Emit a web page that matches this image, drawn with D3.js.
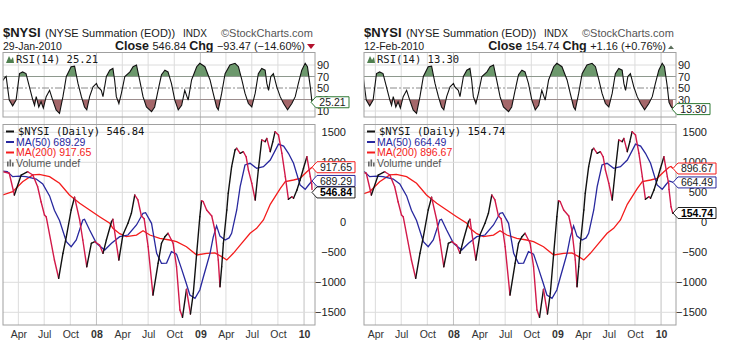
<!DOCTYPE html>
<html>
<head>
<meta charset="utf-8">
<script src="https://cdn.jsdelivr.net/npm/d3@7"></script>
<style>
  body { margin: 0; background: #fff; }
  svg { display: block; font-family: "Liberation Sans", Arial, sans-serif; }
</style>
</head>
<body>
<svg id="chart" width="729" height="351"></svg>
<script>
// $NYSI daily close at its turning points
const nysiDates = ["2007-01-29","2007-02-05","2007-02-28","2007-03-18","2007-04-11","2007-05-04","2007-05-22","2007-06-08","2007-06-20","2007-07-02","2007-07-08","2007-08-06","2007-08-21","2007-09-05","2007-09-17","2007-10-04","2007-10-16","2007-11-03","2007-11-14","2007-11-28","2007-12-14","2007-12-26","2008-01-12","2008-01-24","2008-02-05","2008-02-23","2008-02-28","2008-03-11","2008-03-20","2008-04-03","2008-04-21","2008-05-03","2008-05-15","2008-05-26","2008-06-07","2008-06-17","2008-07-01","2008-07-18","2008-08-05","2008-08-17","2008-08-29","2008-09-09","2008-09-27","2008-10-09","2008-10-21","2008-10-30","2008-11-13","2008-11-27","2008-12-07","2008-12-19","2008-12-30","2009-01-05","2009-01-11","2009-01-23","2009-02-10","2009-02-21","2009-03-05","2009-03-11","2009-03-17","2009-03-23","2009-04-04","2009-04-09","2009-04-21","2009-05-03","2009-05-09","2009-05-21","2009-06-01","2009-06-11","2009-06-19","2009-07-01","2009-07-13","2009-07-24","2009-08-05","2009-08-17","2009-08-23","2009-09-04","2009-09-13","2009-09-21","2009-10-03","2009-10-15","2009-10-27","2009-11-07","2009-11-19","2009-11-25","2009-12-07","2009-12-18","2009-12-30","2010-01-11","2010-01-23","2010-01-28","2010-01-29","2010-02-05","2010-02-11","2010-02-12"];
const nysiValues = [850,843,817,455,788,843,788,593,343,122,93,-628,-933,-517,-240,205,417,38,-295,-740,-350,-323,-378,-517,-295,10,50,-350,-628,-212,-17,150,455,372,110,60,-407,-1212,-683,-350,-240,-183,-350,-740,-1462,-1583,-1117,-1528,-1183,-517,93,360,343,205,105,-128,-628,-1073,-740,-350,205,483,927,1205,1233,1150,1177,1093,872,650,372,872,1372,1343,1398,1177,1343,1510,1455,1150,760,383,427,400,538,705,900,1093,760,640.31,546.84,260,153.58,154.74];

// MA(50)
const ma50Dates = ["2007-02-05","2007-02-21","2007-03-12","2007-04-05","2007-04-28","2007-06-03","2007-06-26","2007-07-20","2007-08-06","2007-08-24","2007-09-17","2007-10-04","2007-10-22","2007-11-14","2007-11-20","2007-12-08","2008-01-01","2008-01-30","2008-02-23","2008-03-23","2008-04-21","2008-05-21","2008-06-13","2008-06-22","2008-07-13","2008-07-31","2008-08-17","2008-09-04","2008-09-21","2008-10-09","2008-10-27","2008-11-11","2008-11-25","2008-12-13","2008-12-30","2009-01-11","2009-01-23","2009-02-04","2009-02-15","2009-02-27","2009-03-11","2009-03-29","2009-04-12","2009-04-21","2009-05-09","2009-05-21","2009-06-07","2009-06-25","2009-07-18","2009-08-11","2009-09-04","2009-10-03","2009-10-21","2009-11-07","2009-11-25","2009-12-18","2010-01-05","2010-01-17","2010-01-29","2010-02-05","2010-02-12"];
const ma50Values = [855,845,760,770,760,720,640,440,200,30,-323,-407,-295,38,50,-128,-350,-462,-350,-240,-212,-45,150,160,-17,-517,-683,-680,-490,-530,-780,-1000,-1212,-1267,-1128,-920,-720,-517,-250,-60,-230,-295,-260,-183,205,593,955,983,900,927,1038,1303,1270,1150,983,622,550,622,689.29,680,664.49];

// MA(200)
const ma200Dates = ["2007-02-05","2007-03-12","2007-04-16","2007-05-22","2007-06-14","2007-07-20","2007-08-24","2007-09-28","2007-11-03","2007-12-08","2008-01-12","2008-02-17","2008-02-28","2008-03-23","2008-04-15","2008-05-21","2008-06-13","2008-07-07","2008-08-11","2008-09-15","2008-10-09","2008-11-13","2008-12-19","2009-01-23","2009-02-21","2009-03-17","2009-04-04","2009-04-27","2009-05-21","2009-06-25","2009-07-18","2009-08-11","2009-09-04","2009-10-09","2009-10-27","2009-11-25","2009-12-18","2010-01-11","2010-01-29","2010-02-05","2010-02-12"];
const ma200Values = [455,510,677,790,800,760,650,455,317,205,93,-17,-100,-190,-240,-212,-140,-212,-267,-295,-323,-407,-545,-517,-510,-573,-628,-517,-380,-183,-100,38,300,560,677,705,733,843,917.65,930,896.67];

// RSI(14)
const rsiDates = ["2007-02-01","2007-02-11","2007-02-17","2007-02-28","2007-03-12","2007-03-24","2007-04-05","2007-04-16","2007-04-28","2007-05-10","2007-05-22","2007-05-28","2007-06-03","2007-06-12","2007-06-20","2007-06-28","2007-07-08","2007-07-20","2007-07-31","2007-08-12","2007-08-24","2007-09-05","2007-09-17","2007-10-04","2007-10-16","2007-10-28","2007-11-09","2007-11-20","2007-11-28","2007-12-08","2007-12-20","2008-01-01","2008-01-06","2008-01-18","2008-01-24","2008-02-05","2008-02-17","2008-02-28","2008-03-05","2008-03-11","2008-03-20","2008-03-29","2008-04-10","2008-04-28","2008-05-09","2008-05-21","2008-06-01","2008-06-13","2008-06-25","2008-07-13","2008-07-24","2008-08-05","2008-08-17","2008-08-29","2008-09-09","2008-09-21","2008-10-03","2008-10-15","2008-10-27","2008-11-07","2008-11-19","2008-12-01","2008-12-19","2008-12-30","2009-01-17","2009-02-04","2009-02-15","2009-02-27","2009-03-05","2009-03-17","2009-03-29","2009-04-15","2009-05-03","2009-05-15","2009-05-27","2009-06-07","2009-06-19","2009-07-01","2009-07-13","2009-07-24","2009-08-05","2009-08-17","2009-08-23","2009-08-29","2009-09-06","2009-09-15","2009-09-27","2009-10-09","2009-10-21","2009-11-04","2009-11-19","2009-12-01","2009-12-12","2009-12-24","2010-01-05","2010-01-13","2010-01-23","2010-01-29","2010-02-05","2010-02-12"];
const rsiValues = [60,67,70,29,19,29,75,78,75,52,29,20,35,17,26,15,35,46,29,12,6,35,70,87,88,58,35,17,12,35,52,58,52,46,35,70,81,84,64,35,23,41,70,78,87,90,64,35,17,9,17,46,73,81,78,58,29,12,20,46,29,64,87,93,87,64,41,17,12,41,75,90,93,87,64,41,23,17,41,75,84,81,58,46,70,75,52,35,23,12,23,35,58,81,93,87,52,25.21,18,13.30];

// the two snapshots, two weeks apart
const panelEnds = ["2010-01-29", "2010-02-12"];
const panelOffsets = [0, 361];

const mainTicks = [-1500, -1000, -500, 0, 500, 1000, 1500];
const rsiTicks = [10, 30, 50, 70, 90];

const FONT = '"Liberation Sans", Arial, sans-serif';
const MONO = '"DejaVu Sans Mono", monospace';
const C = {
  down: "#d21a4a", ma50: "#28289e", ma200: "#f41c1c",
  grid: "#dcdcdc", year: "#c2c2c2", frame: "#a0a0a0",
  green: "#6c986c", brown: "#a4676a", text: "#1a1a1a"
};

const parse = d3.timeParse("%Y-%m-%d");
const DAY = 864e5, PX_PER_DAY = 0.284, SPAN = 1100;
const pack = (ds, vs) => ds.map((d, i) => ({date: parse(d), value: vs[i]}));
const nysi = pack(nysiDates, nysiValues);
const ma50 = pack(ma50Dates, ma50Values);
const ma200 = pack(ma200Dates, ma200Values);
const rsi = pack(rsiDates, rsiValues);

const svg = d3.select("#chart");
const fmt2 = d3.format(".2f"), fmtS = d3.format("+.2f");
let clipN = 0;

function clip(x, y, w, h) {
  const id = "clip" + (clipN++);
  svg.append("clipPath").attr("id", id)
    .append("rect").attr("x", x).attr("y", y).attr("width", w).attr("height", h);
  return "url(#" + id + ")";
}

// StockCharts style value tag with a pointer on its left
function tag(g, xTip, yc, w, label, stroke, color, bold) {
  const h = 5.5;
  g.append("path")
    .attr("d", `M${xTip},${yc}L${xTip + 5},${yc - h}H${xTip + w}V${yc + h}H${xTip + 5}Z`)
    .attr("fill", "#fff").attr("stroke", stroke).attr("stroke-width", 1);
  g.append("text")
    .attr("x", xTip + 5 + (w - 5) / 2).attr("y", yc + 3.8)
    .attr("text-anchor", "middle").attr("font-size", 10.5)
    .attr("font-weight", bold ? "bold" : null)
    .attr("fill", color).text(label);
}

function drawPanel(ox, endStr) {
  const end = parse(endStr);
  const upTo = s => s.filter(d => d.date <= end);
  const px = upTo(nysi), m50 = upTo(ma50), m200 = upTo(ma200), rs = upTo(rsi);
  const last = px[px.length - 1], prev = px[px.length - 2];

  const L = ox + 3, R = ox + 315;
  const rTop = 52.5, rBot = 117, mTop = 124.5, mBot = 325;

  const x = d3.scaleTime()
    .domain([new Date(+end - SPAN * DAY), end])
    .range([ox + 312 - SPAN * PX_PER_DAY, ox + 312]);
  const yR = d3.scaleLinear().domain([10, 90]).range([111, 65]);
  const y = d3.scaleLinear().domain([-1500, 1500]).range([312.3, 132.3]);

  const g = svg.append("g").attr("font-family", FONT).attr("fill", C.text);

  // header
  g.append("text").attr("x", ox + 3).attr("y", 37).attr("font-size", 13)
    .attr("font-weight", "bold").text("$NYSI");
  g.append("text").attr("x", ox + 45).attr("y", 37).attr("font-size", 11)
    .text("(NYSE Summation (EOD))");
  g.append("text").attr("x", ox + 183).attr("y", 37).attr("font-size", 10).text("INDX");
  g.append("text").attr("x", ox + 221).attr("y", 37).attr("font-size", 11)
    .attr("fill", "#555").text("\u00A9StockCharts.com");
  g.append("text").attr("x", ox + 3).attr("y", 50).attr("font-size", 10.5)
    .text(d3.timeFormat("%d-%b-%Y")(end));

  const chg = last.value - prev.value;
  const hdr = g.append("text").attr("x", ox + 305).attr("y", 50)
    .attr("text-anchor", "end").attr("font-size", 11);
  hdr.append("tspan").attr("font-weight", "bold").attr("font-size", 12.5).text("Close ");
  hdr.append("tspan").text(fmt2(last.value) + " ");
  hdr.append("tspan").attr("font-weight", "bold").attr("font-size", 12.5).text("Chg ");
  hdr.append("tspan").text(fmtS(chg) + " (" + fmtS(chg / prev.value * 100) + "%)");
  if (chg < 0) {
    g.append("path").attr("d", `M${ox + 307},${44}L${ox + 315},${44}L${ox + 311},${49}Z`)
      .attr("fill", "#b3122e");
  } else {
    g.append("path").attr("d", `M${ox + 307},${49}L${ox + 313},${49}L${ox + 310},${45.5}Z`)
      .attr("fill", "#5c6f5c");
  }

  // quarterly grid through both panes
  const quarters = x.ticks(d3.timeMonth.every(3)).filter(d => x(d) > L + 1 && x(d) < R - 1);
  g.append("g").selectAll("line").data(quarters).join("line")
    .attr("x1", d => x(d)).attr("x2", d => x(d))
    .attr("y1", rTop).attr("y2", mBot)
    .attr("stroke", d => d.getMonth() === 0 ? C.year : C.grid).attr("stroke-width", 1);

  // ---- RSI pane ----
  g.append("g").selectAll("line").data(rsiTicks).join("line")
    .attr("x1", L).attr("x2", R).attr("y1", d => yR(d)).attr("y2", d => yR(d))
    .attr("stroke", d => (d === 30 || d === 70) ? "#9a9a9a" : (d === 50 ? "#8a8a8a" : C.grid))
    .attr("stroke-dasharray", d => d === 50 ? "7,2,2,2" : null);

  const aboveClip = clip(L, rTop, R - L, yR(70) - rTop);
  const belowClip = clip(L, yR(30), R - L, rBot - yR(30));
  g.append("path").datum(rs)
    .attr("d", d3.area().x(d => x(d.date)).y0(yR(70)).y1(d => yR(d.value)))
    .attr("fill", C.green).attr("clip-path", aboveClip);
  g.append("path").datum(rs)
    .attr("d", d3.area().x(d => x(d.date)).y0(yR(30)).y1(d => yR(d.value)))
    .attr("fill", C.brown).attr("clip-path", belowClip);
  g.append("path").datum(rs)
    .attr("d", d3.line().x(d => x(d.date)).y(d => yR(d.value)))
    .attr("fill", "none").attr("stroke", "#111").attr("stroke-width", 1.1)
    .attr("clip-path", clip(L, rTop, R - L, rBot - rTop));

  g.append("rect").attr("x", L).attr("y", rTop).attr("width", R - L).attr("height", rBot - rTop)
    .attr("fill", "none").attr("stroke", C.frame);

  const rAxis = g.append("g").attr("transform", `translate(${R},0)`)
    .call(d3.axisRight(yR).tickValues(rsiTicks).tickSize(0).tickPadding(2));
  rAxis.select(".domain").remove();
  rAxis.attr("font-family", FONT).attr("font-size", 11);
  rAxis.selectAll("text").attr("fill", C.text);

  // RSI legend
  g.append("path").attr("d", `M${ox + 6},${63}L${ox + 9},${56}L${ox + 11},${60}L${ox + 13},${57}L${ox + 14},${63}Z`)
    .attr("fill", "#4f7f4f");
  g.append("text").attr("x", ox + 16).attr("y", 63).attr("font-family", MONO)
    .attr("font-size", 10.5).text("RSI(14) " + fmt2(rs[rs.length - 1].value));

  // ---- price pane ----
  g.append("g").selectAll("line").data(mainTicks).join("line")
    .attr("x1", L).attr("x2", R).attr("y1", d => y(d)).attr("y2", d => y(d))
    .attr("stroke", C.grid);

  const mainClip = clip(L, mTop, R - L, mBot - mTop);
  const line = d3.line().x(d => x(d.date)).y(d => y(d.value));
  g.append("path").datum(m200).attr("d", line).attr("fill", "none")
    .attr("stroke", C.ma200).attr("stroke-width", 1.3).attr("clip-path", mainClip);
  g.append("path").datum(m50).attr("d", line).attr("fill", "none")
    .attr("stroke", C.ma50).attr("stroke-width", 1.3).attr("clip-path", mainClip);
  // price line coloured by direction: black up, red down
  g.append("g").attr("clip-path", mainClip)
    .selectAll("path").data(d3.pairs(px)).join("path")
    .attr("d", d => line(d)).attr("fill", "none")
    .attr("stroke", d => d[1].value < d[0].value ? C.down : "#111")
    .attr("stroke-width", 1.4).attr("stroke-linecap", "round");

  g.append("rect").attr("x", L).attr("y", mTop).attr("width", R - L).attr("height", mBot - mTop)
    .attr("fill", "none").attr("stroke", C.frame);

  const yAxis = g.append("g").attr("transform", `translate(${ox + 348},0)`)
    .call(d3.axisLeft(y).tickValues(mainTicks).tickSize(0).tickPadding(2).tickFormat(d3.format("d")));
  yAxis.select(".domain").remove();
  yAxis.attr("font-family", FONT).attr("font-size", 11);
  yAxis.selectAll("text").attr("fill", C.text);

  const xAxis = g.append("g").attr("transform", `translate(0,${mBot})`)
    .call(d3.axisBottom(x).tickValues(quarters).tickSize(0).tickPadding(6)
      .tickFormat(d => d.getMonth() === 0 ? d3.timeFormat("%y")(d) : d3.timeFormat("%b")(d)));
  xAxis.select(".domain").remove();
  xAxis.attr("font-family", FONT).attr("font-size", 10.5);
  xAxis.selectAll("text").attr("fill", "#333")
    .attr("font-weight", d => d.getMonth() === 0 ? "bold" : null);

  // price legend
  const lg = [
    {y: 135, color: "#111", label: "$NYSI (Daily) " + fmt2(last.value), mono: true},
    {y: 145.5, color: C.ma50, label: "MA(50) " + fmt2(m50[m50.length - 1].value)},
    {y: 156, color: C.ma200, label: "MA(200) " + fmt2(m200[m200.length - 1].value)}
  ];
  lg.forEach(d => {
    g.append("line").attr("x1", ox + 6).attr("x2", ox + 14).attr("y1", d.y - 3.5).attr("y2", d.y - 3.5)
      .attr("stroke", d.color).attr("stroke-width", 2);
    g.append("text").attr("x", ox + (d.mono ? 18 : 16)).attr("y", d.y)
      .attr("font-family", d.mono ? MONO : FONT).attr("font-size", 10.5)
      .attr("fill", d.color).text(d.label);
  });
  [0, 1, 2].forEach(i => {
    g.append("rect").attr("x", ox + 7 + i * 2.5).attr("y", 166.5 - [5, 7, 4][i])
      .attr("width", 1.6).attr("height", [5, 7, 4][i]).attr("fill", "#666");
  });
  g.append("text").attr("x", ox + 16).attr("y", 166.5).attr("font-size", 10.5)
    .attr("fill", "#555").text("Volume undef");

  // value tags on the right, nudged apart so they do not stack on each other
  tag(g, ox + 311, yR(rs[rs.length - 1].value), 38, fmt2(rs[rs.length - 1].value), "#2f7a35", C.text, false);
  const tags = [
    {v: m200[m200.length - 1].value, stroke: C.ma200, color: C.text, bold: false},
    {v: m50[m50.length - 1].value, stroke: C.ma50, color: C.text, bold: false},
    {v: last.value, stroke: "#222", color: "#000", bold: true}
  ].map(t => Object.assign(t, {yc: y(t.v)})).sort((a, b) => a.yc - b.yc);
  for (let i = 1; i < tags.length; i++) {
    if (tags[i].yc - tags[i - 1].yc < 11.5) tags[i].yc = tags[i - 1].yc + 11.5;
  }
  tags.forEach(t => tag(g, ox + 312, t.yc, 43, fmt2(t.v), t.stroke, t.color, t.bold));
}

panelEnds.forEach((e, i) => drawPanel(panelOffsets[i], e));
</script>
</body>
</html>
